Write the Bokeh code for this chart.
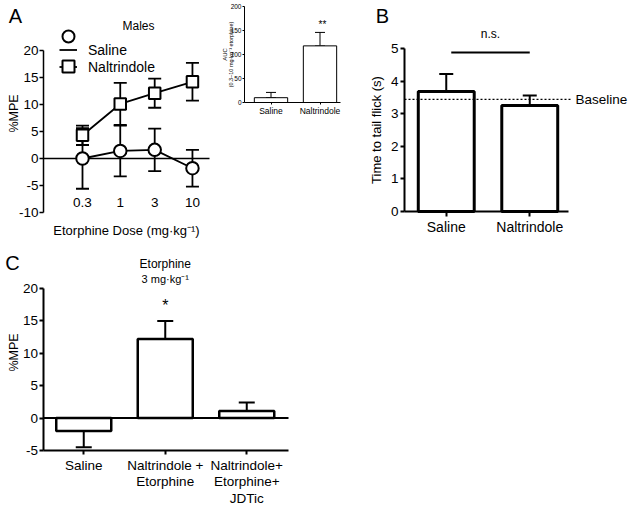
import math
from bokeh.plotting import figure
from bokeh.core.properties import value
from bokeh.models import (Range1d, FixedTicker, Whisker, TeeHead, ColumnDataSource,
                          Label, Legend, LegendItem)
from bokeh.layouts import column, row
from bokeh.embed import file_html
from bokeh.resources import INLINE

FONT = "Liberation Sans"

# ---------------- data ----------------
# Panel A: dose-response (males)
doses = [0.3, 1, 3, 10]
dose_labels = ["0.3", "1", "3", "10"]
saline_mpe = [0.0, 1.4, 1.6, -1.8]
saline_sem = [5.6, 4.7, 3.95, 3.4]
naltrindole_mpe = [4.3, 10.1, 12.1, 14.2]
naltrindole_sem = [1.8, 3.9, 2.7, 3.5]
a_yticks = [-10, -5, 0, 5, 10, 15, 20]

# Panel A inset: AUC
auc_groups = ["Saline", "Naltrindole"]
auc_mean = [10, 118]
auc_sem = [11, 28]
auc_yticks = [0, 50, 100, 150, 200]

# Panel B: tail flick latency
flick_groups = ["Saline", "Naltrindole"]
flick_mean = [3.68, 3.25]
flick_sem = [0.54, 0.31]
flick_baseline = 3.44
ns_level = 4.88
b_yticks = [0, 1, 2, 3, 4, 5]

# Panel C: etorphine 3 mg/kg
c_groups = ["Saline", "Naltrindole +\nEtorphine", "Naltrindole+\nEtorphine+\nJDTic"]
c_mean = [-2.0, 12.2, 1.1]
c_sem = [2.5, 2.8, 1.3]
c_yticks = [-5, 0, 5, 10, 15, 20]


# ---------------- helpers (page-pixel layout -> data units) ----------------
def xmap(p_ref, v_ref, ppu):
    return lambda p: v_ref + (p - p_ref) / ppu


def ymap(q_ref, v_ref, ppu):
    return lambda q: v_ref - (q - q_ref) / ppu


def frame_fig(width, height, x_range, y_range, **kw):
    p = figure(width=width, height=height, x_range=x_range, y_range=y_range,
               output_backend="svg", toolbar_location=None,
               min_border_left=0, min_border_right=0, min_border_top=0,
               min_border_bottom=0, **kw)
    p.grid.visible = False
    p.outline_line_color = None
    p.background_fill_color = "white"
    p.border_fill_color = "white"
    for ax in p.axis:
        ax.minor_tick_line_color = None
        ax.major_tick_in = 0
        ax.major_tick_out = 4
        ax.axis_line_color = "black"
        ax.major_tick_line_color = "black"
        ax.major_label_text_font = FONT
        ax.major_label_text_color = "black"
        ax.axis_label_text_font = FONT
        ax.axis_label_text_font_style = "normal"
        ax.axis_label_text_color = "black"
    return p


def add_label(p, x, y, text, size, align="center", angle=0.0):
    p.add_layout(Label(x=x, y=y, text=text, text_font=FONT, text_font_size=size,
                       text_align=align, text_baseline="middle", text_color="black",
                       angle=angle))


def cap(size, w):
    return TeeHead(size=size, line_width=w, line_color="black")


# ---------------- Panel A ----------------
A_W, A_H = 216, 250
ax_log = lambda p: 10 ** (math.log10(0.3) + (p - 82) / 72.2)
ay = ymap(50, 20, 5.4)
A_X0, A_X1 = ax_log(43), ax_log(209)
pA = frame_fig(A_W, A_H, x_axis_type="log",
               x_range=Range1d(ax_log(0), ax_log(A_W)), y_range=Range1d(ay(A_H), ay(0)))
pA.yaxis.fixed_location = A_X0
pA.yaxis.bounds = (-10, 20)
pA.yaxis.ticker = FixedTicker(ticks=a_yticks)
pA.yaxis.major_label_overrides = {t: str(t) for t in a_yticks}
pA.yaxis.major_label_text_font_size = "13.5px"
pA.yaxis.major_label_standoff = 1
pA.yaxis.axis_line_width = 1.5
pA.yaxis.major_tick_line_width = 1.5
pA.xaxis.fixed_location = -10
pA.xaxis.bounds = (A_X0, A_X1)
pA.xaxis.ticker = FixedTicker(ticks=doses)
pA.xaxis.major_label_overrides = {d: l for d, l in zip(doses, dose_labels)}
pA.xaxis.axis_line_color = None
pA.xaxis.major_tick_line_color = None
pA.xaxis.major_tick_out = 0
pA.xaxis.major_label_standoff = -15
pA.xaxis.major_label_text_font_size = "13.5px"
pA.xaxis.axis_label = "Etorphine Dose (mg·kg⁻¹)"
pA.xaxis.axis_label_text_font_size = "13px"
pA.xaxis.axis_label_standoff = 13

srcS = ColumnDataSource(dict(x=doses, y=saline_mpe,
                             lo=[m - s for m, s in zip(saline_mpe, saline_sem)],
                             hi=[m + s for m, s in zip(saline_mpe, saline_sem)]))
srcN = ColumnDataSource(dict(x=doses, y=naltrindole_mpe,
                             lo=[m - s for m, s in zip(naltrindole_mpe, naltrindole_sem)],
                             hi=[m + s for m, s in zip(naltrindole_mpe, naltrindole_sem)]))
for src in (srcS, srcN):
    pA.add_layout(Whisker(base="x", lower="lo", upper="hi", source=src,
                          line_color="black", line_width=1.8,
                          lower_head=cap(13, 1.8), upper_head=cap(13, 1.8)))
pA.segment(x0=[A_X0], y0=[0], x1=[A_X1], y1=[0], line_color="black", line_width=1.5)
lS = pA.line("x", "y", source=srcS, line_width=1.8, line_color="black")
lN = pA.line("x", "y", source=srcN, line_width=1.8, line_color="black")
mS = pA.scatter("x", "y", source=srcS, marker="circle", size=12.5, fill_color="white",
                line_color="black", line_width=2)
mN = pA.scatter("x", "y", source=srcN, marker="square", size=11.5, fill_color="white",
                line_color="black", line_width=2)

leg_lines = Legend(items=[LegendItem(label="Saline", renderers=[lS]),
                          LegendItem(label="Naltrindole", renderers=[lN])],
                   location=(59, 175), orientation="vertical", border_line_color=None,
                   background_fill_alpha=0, padding=0, margin=0, spacing=0,
                   glyph_width=18, glyph_height=17, label_height=17, label_standoff=11,
                   label_text_font=FONT, label_text_font_size="14px", label_text_color="black")
# second legend only draws full-size markers on top of the legend lines
leg_marks = Legend(items=[LegendItem(label=value(""), renderers=[mS]),
                          LegendItem(label=value(""), renderers=[mN])],
                   location=(53, 169), orientation="vertical", border_line_color=None,
                   background_fill_alpha=0, padding=0, margin=0, spacing=-13,
                   glyph_width=30, glyph_height=30, label_height=17, label_standoff=0,
                   label_text_font=FONT, label_text_font_size="14px", label_text_alpha=0)
pA.add_layout(leg_lines)
pA.add_layout(leg_marks)
add_label(pA, ax_log(15), ay(15), "A", "20px")
add_label(pA, ax_log(138), ay(25), "Males", "12px")
add_label(pA, ax_log(13), ay(113), "%MPE", "12.5px", angle=math.pi / 2)

# ---------------- Inset (AUC) ----------------
I_X0, I_W, I_H = 216, 134, 118
ix = xmap(246, 0, 49)
iy = ymap(102, 0, 0.48)
auc_pos = [i + 0.5 for i in range(len(auc_groups))]
pI = frame_fig(I_W, I_H, x_range=Range1d(ix(I_X0), ix(I_X0 + I_W)),
               y_range=Range1d(iy(I_H), iy(0)))
pI.yaxis.fixed_location = ix(244)
pI.yaxis.bounds = (0, 200)
pI.yaxis.ticker = FixedTicker(ticks=auc_yticks)
pI.yaxis.major_label_text_font_size = "6.5px"
pI.yaxis.major_tick_out = 2
pI.yaxis.major_label_standoff = 1
pI.xaxis.fixed_location = 0
pI.xaxis.bounds = (ix(244), ix(340))
pI.xaxis.ticker = FixedTicker(ticks=auc_pos)
pI.xaxis.major_label_overrides = {x: g for x, g in zip(auc_pos, auc_groups)}
pI.xaxis.major_label_text_font_size = "8.5px"
pI.xaxis.major_tick_out = 2
pI.xaxis.major_label_standoff = 1
srcI = ColumnDataSource(dict(x=auc_pos, m=auc_mean,
                             hi=[m + s for m, s in zip(auc_mean, auc_sem)]))
pI.add_layout(Whisker(base="x", lower="m", upper="hi", source=srcI, line_color="black",
                      line_width=1, lower_head=cap(10, 1), upper_head=cap(10, 1)))
pI.vbar(x="x", top="m", bottom=0, width=0.68, source=srcI, fill_color="white",
        line_color="black", line_width=1)
add_label(pI, ix(322), iy(24), "**", "10px")
add_label(pI, ix(224), iy(54), "AUC", "6px", angle=math.pi / 2)
add_label(pI, ix(230), iy(54), "(0.3–10 mg·kg⁻¹ etorphine)", "5.5px", angle=math.pi / 2)

# ---------------- Panel B ----------------
B_X0, B_W, B_H = 350, 278, 250
bx = xmap(404, 0, 83.5)
by = ymap(211, 0, 32.6)
flick_pos = [i + 0.5 for i in range(len(flick_groups))]
pB = frame_fig(B_W, B_H, x_range=Range1d(bx(B_X0), bx(B_X0 + B_W)),
               y_range=Range1d(by(B_H), by(0)))
pB.yaxis.fixed_location = 0
pB.yaxis.bounds = (0, 5)
pB.yaxis.ticker = FixedTicker(ticks=b_yticks)
pB.yaxis.major_label_text_font_size = "13.5px"
pB.yaxis.major_label_standoff = 2
pB.yaxis.axis_label = "Time to tail flick (s)"
pB.yaxis.axis_label_text_font_size = "13px"
pB.yaxis.axis_label_standoff = 4
pB.xaxis.fixed_location = 0
pB.xaxis.bounds = (0, bx(568))
pB.xaxis.ticker = FixedTicker(ticks=flick_pos)
pB.xaxis.major_label_overrides = {x: g for x, g in zip(flick_pos, flick_groups)}
pB.xaxis.major_label_text_font_size = "14px"
pB.xaxis.major_tick_out = 5
pB.xaxis.major_label_standoff = 2
for ax in pB.axis:
    ax.axis_line_width = 2
    ax.major_tick_line_width = 2
srcB = ColumnDataSource(dict(x=flick_pos, m=flick_mean,
                             hi=[m + s for m, s in zip(flick_mean, flick_sem)]))
pB.add_layout(Whisker(base="x", lower="m", upper="hi", source=srcB, line_color="black",
                      line_width=2, lower_head=cap(14, 2), upper_head=cap(14, 2)))
pB.vbar(x="x", top="m", bottom=0, width=0.67, source=srcB, fill_color="white",
        line_color="black", line_width=3)
pB.segment(x0=[0], y0=[flick_baseline], x1=[bx(572)], y1=[flick_baseline],
           line_color="black", line_width=1.2, line_dash="2 2")
pB.segment(x0=[flick_pos[0] + 0.06], y0=[ns_level], x1=[flick_pos[1]], y1=[ns_level],
           line_color="black", line_width=2)
add_label(pB, bx(382), by(15), "B", "20px")
add_label(pB, bx(490), by(33), "n.s.", "12px")
add_label(pB, bx(575), flick_baseline, "Baseline", "13.5px", align="left")

# ---------------- Panel C ----------------
C_Y0, C_W, C_H = 250, 300, 254
cx = xmap(42.5, 0, 81.5)
cy = ymap(288, 20, 6.48)
c_pos = [i + 0.5 for i in range(len(c_groups))]
pC = frame_fig(C_W, C_H, x_range=Range1d(cx(0), cx(C_W)),
               y_range=Range1d(cy(C_Y0 + C_H), cy(C_Y0)))
pC.yaxis.fixed_location = 0
pC.yaxis.bounds = (-5, 20)
pC.yaxis.ticker = FixedTicker(ticks=c_yticks)
pC.yaxis.major_label_overrides = {t: str(t) for t in c_yticks}
pC.yaxis.major_label_text_font_size = "13.5px"
pC.yaxis.major_label_standoff = 1
pC.xaxis.fixed_location = -5
pC.xaxis.bounds = (0, cx(288))
pC.xaxis.ticker = FixedTicker(ticks=c_pos)
pC.xaxis.major_label_overrides = {x: g for x, g in zip(c_pos, c_groups)}
pC.xaxis.major_label_text_font_size = "13.5px"
pC.xaxis.major_label_text_line_height = 1.1
pC.xaxis.major_tick_out = 4
pC.xaxis.major_label_standoff = 3
for ax in pC.axis:
    ax.axis_line_width = 2
    ax.major_tick_line_width = 2
srcC = ColumnDataSource(dict(x=c_pos, m=c_mean,
                             lo=[m - s if m < 0 else m for m, s in zip(c_mean, c_sem)],
                             hi=[m if m < 0 else m + s for m, s in zip(c_mean, c_sem)]))
pC.add_layout(Whisker(base="x", lower="lo", upper="hi", source=srcC, line_color="black",
                      line_width=2, lower_head=cap(16, 2), upper_head=cap(16, 2)))
pC.vbar(x="x", top="m", bottom=0, width=0.675, source=srcC, fill_color="white",
        line_color="black", line_width=2.5)
pC.segment(x0=[0], y0=[0], x1=[cx(288)], y1=[0], line_color="black", line_width=2)
add_label(pC, cx(12), cy(262), "C", "20px")
add_label(pC, c_pos[1], cy(263), "Etorphine", "12px")
add_label(pC, c_pos[1], cy(278), "3 mg·kg⁻¹", "11px")
add_label(pC, c_pos[1], cy(305), "*", "16px")
add_label(pC, cx(13), cy(352), "%MPE", "12.5px", angle=math.pi / 2)

layout = column(row(pA, pI, pB), pC)
open("out.html", "w").write(file_html(layout, INLINE))
